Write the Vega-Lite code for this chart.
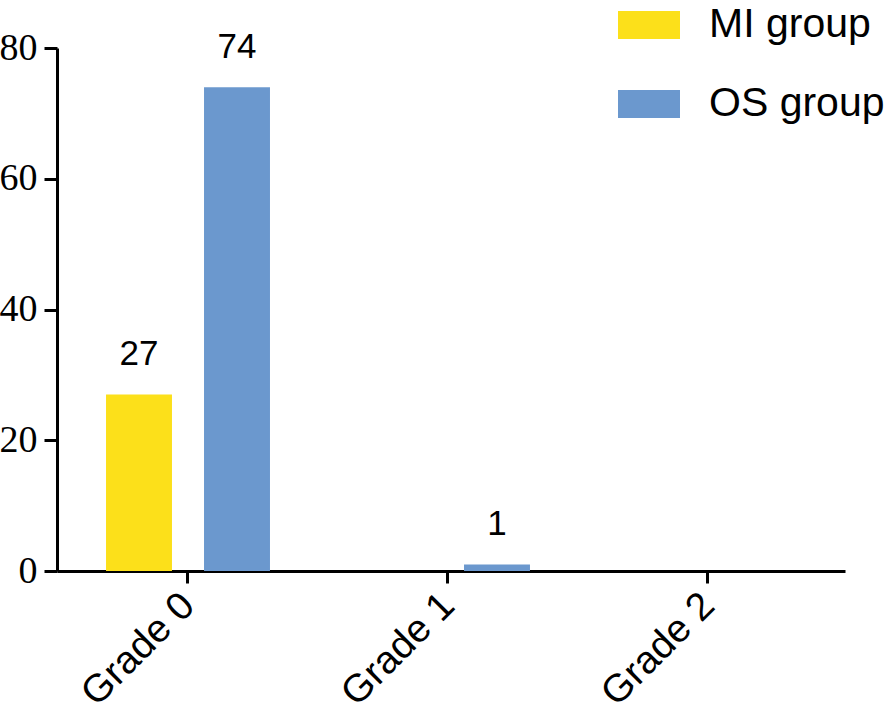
{
  "$schema": "https://vega.github.io/schema/vega-lite/v6.json",
  "autosize": {"type": "none"},
  "padding": {"left": 57, "top": 48, "right": 50, "bottom": 145},
  "width": 788,
  "height": 523,
  "background": "white",
  "config": {"view": {"stroke": null}},
  "data": {
    "values": [
      {"grade": "Grade 0", "group": "MI group", "value": 27},
      {"grade": "Grade 0", "group": "OS group", "value": 74},
      {"grade": "Grade 1", "group": "MI group", "value": 0},
      {"grade": "Grade 1", "group": "OS group", "value": 1},
      {"grade": "Grade 2", "group": "MI group", "value": 0},
      {"grade": "Grade 2", "group": "OS group", "value": 0}
    ]
  },
  "encoding": {
    "x": {
      "field": "grade",
      "type": "nominal",
      "sort": ["Grade 0", "Grade 1", "Grade 2"],
      "scale": {"paddingInner": 0, "paddingOuter": 0.0154, "align": 0.125},
      "axis": {
        "title": null,
        "labelAngle": -45,
        "labelAlign": "right",
        "labelBaseline": "middle",
        "labelFont": "Liberation Sans",
        "labelFontSize": 39,
        "labelColor": "black",
        "labelPadding": 16,
        "tickSize": 12,
        "tickWidth": 3,
        "tickColor": "black",
        "domainWidth": 3,
        "domainColor": "black",
        "grid": false
      }
    },
    "xOffset": {
      "field": "group",
      "type": "nominal",
      "scale": {"paddingInner": 0.327, "paddingOuter": 0.49}
    },
    "y": {
      "field": "value",
      "type": "quantitative",
      "scale": {"domain": [0, 80], "nice": false},
      "axis": {
        "title": null,
        "values": [0, 20, 40, 60, 80],
        "labelFont": "Liberation Serif",
        "labelFontSize": 38,
        "labelColor": "black",
        "labelPadding": 7,
        "tickSize": 13,
        "tickWidth": 3,
        "tickColor": "black",
        "domainWidth": 3,
        "domainColor": "black",
        "grid": false
      }
    }
  },
  "layer": [
    {
      "mark": {"type": "bar"},
      "encoding": {
        "color": {
          "field": "group",
          "type": "nominal",
          "scale": {"domain": ["MI group", "OS group"], "range": ["#FCE01A", "#6B98CE"]},
          "legend": {
            "title": null,
            "orient": "none",
            "legendX": 561,
            "legendY": -54,
            "padding": 0,
            "symbolType": "M-1,-0.45H1V0.45H-1Z",
            "symbolSize": 3844,
            "symbolStrokeWidth": 0,
            "symbolOpacity": 1,
            "labelFont": "Liberation Sans",
            "labelFontSize": 41,
            "labelColor": "black",
            "labelOffset": 29,
            "labelLimit": 400,
            "rowPadding": 28
          }
        }
      }
    },
    {
      "transform": [{"filter": "datum.value > 0"}],
      "mark": {
        "type": "text",
        "font": "Liberation Sans",
        "fontSize": 35,
        "color": "black",
        "baseline": "alphabetic",
        "dy": -29
      },
      "encoding": {"text": {"field": "value", "type": "quantitative"}}
    }
  ]
}
